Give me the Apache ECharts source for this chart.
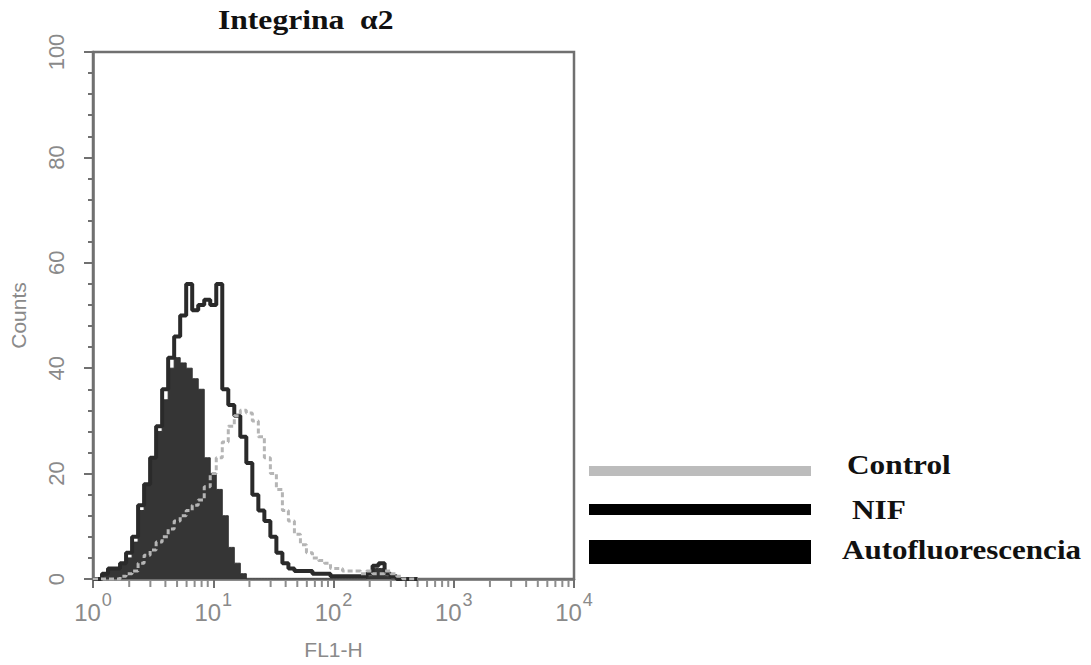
<!DOCTYPE html>
<html>
<head>
<meta charset="utf-8">
<title>Integrina α2</title>
<script src="https://cdn.jsdelivr.net/npm/echarts@6/dist/echarts.min.js"></script>
<style>
  html, body { margin: 0; padding: 0; background: #fff; }
  #chart { width: 1091px; height: 665px; }
</style>
</head>
<body>
<div id="chart"></div>
<script>
// canales del histograma, en décadas de FL1-H (log10)
var channelDecade = [
  0.00, 0.05, 0.10, 0.15, 0.20, 0.25, 0.30, 0.35, 0.40, 0.45,
  0.50, 0.55, 0.60, 0.65, 0.70, 0.75, 0.80, 0.85, 0.90, 0.95,
  1.00, 1.05, 1.10, 1.15, 1.20, 1.25, 1.30, 1.35, 1.40, 1.45,
  1.50, 1.55, 1.60, 1.65, 1.70, 1.75, 1.80, 1.85, 1.90, 1.95,
  2.00, 2.05, 2.10, 2.15, 2.20, 2.25, 2.30, 2.35, 2.40, 2.45,
  2.50, 2.55, 2.60, 2.65, 2.70
]
var autofluorescencia = [
  0, 0, 1, 2, 2, 3, 4, 7, 13, 18,
  23, 28, 34, 40, 42, 41, 40, 38, 36, 23,
  20, 17, 12, 6, 3, 1, 0, 0, 0, 0,
  0, 0, 0, 0, 0, 0, 0, 0, 0, 0,
  0, 0, 0, 0, 0, 0, 0.5, 2, 2, 0.5,
  0, 0, 0, 0, 0
]
var nif = [
  0, 0, 1, 2, 2, 3, 5, 8, 14, 18,
  23, 29, 36, 42, 46, 50, 56, 51, 52, 53,
  52, 56, 36, 33, 31, 27, 22, 16, 13, 11,
  8, 5, 3, 2, 1.5, 1.5, 1.5, 1, 1, 1,
  0.5, 0.5, 0.5, 0.5, 0.5, 0.5, 1, 2.5, 3, 1,
  0.5, 0, 0, 0, 0
]
var control = [
  0, 0, 0, 0, 0, 0.5, 1, 1.5, 3, 4.5,
  5.5, 7, 8, 9.5, 11, 12, 13, 14, 15, 17.5,
  20, 23, 26, 29, 31, 32, 31.5, 30, 27, 23,
  20, 17, 13, 11, 8.5, 6.5, 5, 4, 3.5, 3,
  2, 2, 1.5, 1.5, 1.5, 1, 1.5, 1, 1, 1.5,
  1, 0.5, 0, 0, 0
]
var yTicks = [0, 20, 40, 60, 80, 100]
var xDecades = [1, 10, 100, 1000, 10000]
var minorMult = [2, 3, 4, 5, 6, 7, 8, 9]

var legendNames = ['Control', 'NIF', 'Autofluorescencia']
var legendColors = ['#bcbcbc', '#000000', '#000000']

;(function () {
  var myChart = echarts.init(document.getElementById('chart'), null, { renderer: 'svg' })

  var toPairs = function (vals) {
    return channelDecade.map(function (d, i) {
      return [Math.pow(10, d), vals[i]]
    })
  }

  // marcas menores del eje log (2..9 por década)
  var minorTicks = []
  xDecades.slice(0, 4).forEach(function (dec) {
    minorMult.forEach(function (m) {
      minorTicks.push([m * dec, 0])
    })
  })

  var axisGray = '#707070'
  var labelGray = '#8a8a8a'
  var serif = 'bold 27px "Liberation Serif"'

  var option = {
    backgroundColor: '#fff',
    animation: false,
    grid: {
      left: 93,
      right: 517,
      top: 52,
      bottom: 78,
      show: true,
      borderColor: axisGray,
      borderWidth: 2.5,
    },
    xAxis: {
      type: 'log',
      logBase: 10,
      min: 1,
      max: 10000,
      name: 'FL1-H',
      nameLocation: 'middle',
      nameGap: 60,
      nameTextStyle: { color: labelGray, fontSize: 21, fontFamily: 'Liberation Sans' },
      axisLine: { show: true, lineStyle: { color: axisGray, width: 2.5 } },
      axisTick: { show: true, length: 9, lineStyle: { color: axisGray, width: 2 } },
      minorTick: { show: false },
      splitLine: { show: false },
      axisLabel: {
        margin: 12,
        color: labelGray,
        fontFamily: 'Liberation Sans',
        formatter: function (v) {
          var e = Math.round(Math.log(v) / Math.LN10)
          return '{b|10}{s|' + e + '}'
        },
        rich: {
          b: { fontSize: 24, color: labelGray, fontFamily: 'Liberation Sans', verticalAlign: 'bottom', padding: [9, 0, 0, 0] },
          s: { fontSize: 18, color: labelGray, fontFamily: 'Liberation Sans', verticalAlign: 'top', padding: [0, 0, 10, 1] },
        },
      },
    },
    yAxis: {
      type: 'value',
      min: 0,
      max: 100,
      interval: 20,
      name: 'Counts',
      nameLocation: 'middle',
      nameGap: 64,
      nameTextStyle: { color: labelGray, fontSize: 21, fontFamily: 'Liberation Sans' },
      axisLine: { show: true, lineStyle: { color: axisGray, width: 2.5 } },
      axisTick: { show: true, length: 9, lineStyle: { color: axisGray, width: 2 } },
      minorTick: { show: true, splitNumber: 5, length: 5, lineStyle: { color: axisGray, width: 2 } },
      splitLine: { show: false },
      axisLabel: {
        rotate: 90,
        margin: 26,
        color: labelGray,
        fontSize: 22,
        fontFamily: 'Liberation Sans',
        customValues: yTicks,
      },
    },
    series: [
      {
        name: 'Autofluorescencia',
        type: 'line',
        step: 'middle',
        symbol: 'none',
        z: 2,
        data: toPairs(autofluorescencia),
        lineStyle: { color: '#333', width: 1 },
        areaStyle: { color: '#353535', opacity: 1 },
      },
      {
        name: 'NIF',
        type: 'line',
        step: 'middle',
        symbol: 'none',
        z: 3,
        data: toPairs(nif),
        lineStyle: { color: '#2a2a2a', width: 4 },
      },
      {
        name: 'Control',
        type: 'line',
        step: 'middle',
        symbol: 'none',
        z: 4,
        data: toPairs(control),
        lineStyle: { color: '#b5b5b5', width: 3, type: [5, 3] },
      },
      {
        // marcas menores del eje X
        name: 'minor',
        type: 'scatter',
        silent: true,
        clip: false,
        z: 5,
        data: minorTicks,
        symbol: 'rect',
        symbolSize: [2, 6],
        symbolOffset: [0, 5],
        itemStyle: { color: axisGray },
      },
    ],
    graphic: [
      {
        type: 'text',
        x: 218,
        y: 6,
        scaleX: 1.17,
        style: { text: 'Integrina  α2', font: serif, fill: '#111' },
      },
      { type: 'rect', shape: { x: 589, y: 466, width: 222, height: 10 }, style: { fill: legendColors[0] } },
      { type: 'rect', shape: { x: 589, y: 504, width: 222, height: 11 }, style: { fill: legendColors[1] } },
      { type: 'rect', shape: { x: 589, y: 540, width: 222, height: 24 }, style: { fill: legendColors[2] } },
      {
        type: 'text', x: 847, y: 451, scaleX: 1.16,
        style: { text: legendNames[0], font: serif, fill: '#111' },
      },
      {
        type: 'text', x: 852, y: 496, scaleX: 1.16,
        style: { text: legendNames[1], font: serif, fill: '#111' },
      },
      {
        type: 'text', x: 842, y: 536, scaleX: 1.15,
        style: { text: legendNames[2], font: serif, fill: '#111' },
      },
    ],
  }

  myChart.setOption(option)
  window.addEventListener('resize', function () { myChart.resize() }, false)
})()
</script>
</body>
</html>
